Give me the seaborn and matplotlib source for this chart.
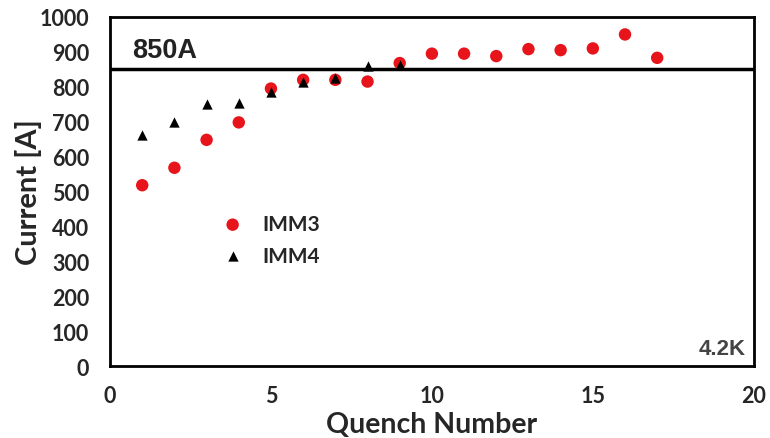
import matplotlib
matplotlib.use("Agg")
import matplotlib.pyplot as plt
import seaborn as sns
import pandas as pd

quench_imm3 = list(range(1, 18))
current_imm3 = [518, 568, 648, 698, 795, 820, 820, 815, 868, 895, 895, 888, 908, 905, 910, 950, 883]
quench_imm4 = list(range(1, 10))
current_imm4 = [663, 698, 750, 753, 785, 813, 825, 860, 863]
threshold = 850
x_ticks = [0, 5, 10, 15, 20]
y_ticks = list(range(0, 1001, 100))

sns.set_theme(style="white")
plt.rcParams['font.family'] = ['Lato', 'DejaVu Sans']
plt.rcParams['font.weight'] = 'bold'

df3 = pd.DataFrame({"q": quench_imm3, "c": current_imm3})
df4 = pd.DataFrame({"q": quench_imm4, "c": current_imm4})

fig = plt.figure(figsize=(7.7, 4.39), dpi=100)
ax = fig.add_axes([0.1429, 0.164, 0.836, 0.795])

sns.scatterplot(data=df4, x="q", y="c", ax=ax, marker="^", color="black", s=55,
                edgecolor="black", linewidth=0, label="IMM4", zorder=3)
sns.scatterplot(data=df3, x="q", y="c", ax=ax, marker="o", color="#e8141b", s=80,
                edgecolor="none", linewidth=0, label="IMM3", zorder=2)

ax.axhline(threshold, color="black", lw=2.5, zorder=1)
ax.text(0.68, 868, "850A", fontsize=19.5, fontweight="bold", family="Liberation Sans",
        color="#222222", va="bottom", ha="left")
ax.text(0.987, 0.02, "4.2K", transform=ax.transAxes, fontsize=16, fontweight="bold",
        family="Liberation Sans", color="#444444", ha="right", va="bottom")

ax.set_xlim(0, 20)
ax.set_ylim(0, 1000)
ax.set_xticks(x_ticks)
ax.set_yticks(y_ticks)
ax.tick_params(axis="y", length=0, labelsize=15.5, pad=15)
ax.tick_params(axis="x", length=0, labelsize=15.5, pad=14)
ax.set_xlabel("Quench Number", fontsize=20.5, fontweight="bold", labelpad=3)
ax.set_ylabel("Current [A]", fontsize=21, fontweight="bold", labelpad=-2)

for sp in ax.spines.values():
    sp.set_color("black")
    sp.set_linewidth(2)

handles, labels = ax.get_legend_handles_labels()
order = [labels.index("IMM3"), labels.index("IMM4")]
leg = ax.legend([handles[i] for i in order], [labels[i] for i in order],
                loc="upper left", bbox_to_anchor=(0.15, 0.465), frameon=False,
                prop={"weight": "bold", "size": 15}, handletextpad=0.7, labelspacing=0.55,
                borderpad=0, handlelength=1.5)

fig.savefig("out.png", dpi=100)
